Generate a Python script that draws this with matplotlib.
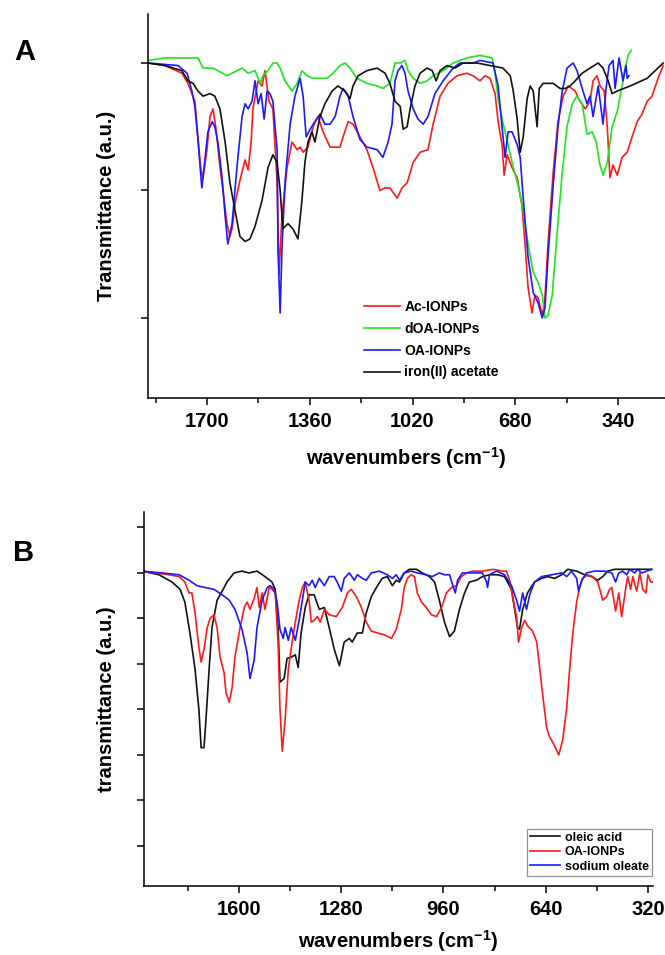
import matplotlib
matplotlib.use("Agg")
from matplotlib import pyplot as plt

plt.rcParams['font.family'] = ['Liberation Sans', 'DejaVu Sans']
plt.rcParams['font.weight'] = 'bold'
plt.rcParams['axes.labelweight'] = 'bold'
plt.rcParams['mathtext.fontset'] = 'custom'
plt.rcParams['mathtext.rm'] = 'Liberation Sans:bold'
plt.rcParams['mathtext.it'] = 'Liberation Sans:bold'
plt.rcParams['mathtext.bf'] = 'Liberation Sans:bold'

# ---- panel A : FTIR spectra, (wavenumber cm-1, transmittance a.u.) ----
ac_ionps = [
    (1895, 1.00), (1839, 0.99), (1783, 0.96), (1763, 0.92), (1740, 0.85), (1730, 0.71),
    (1720, 0.58), (1713, 0.55), (1700, 0.66), (1690, 0.79), (1680, 0.82), (1670, 0.74),
    (1657, 0.59), (1647, 0.50), (1634, 0.37), (1624, 0.32), (1617, 0.35), (1607, 0.45),
    (1591, 0.54), (1574, 0.62), (1564, 0.58), (1554, 0.69), (1548, 0.82), (1531, 0.93),
    (1518, 0.91), (1508, 0.97), (1495, 0.85), (1482, 0.82), (1468, 0.53), (1462, 0.17),
    (1452, 0.40), (1435, 0.59), (1419, 0.69), (1402, 0.66), (1392, 0.67), (1382, 0.65),
    (1366, 0.67), (1349, 0.75), (1333, 0.79), (1316, 0.73), (1293, 0.67), (1260, 0.67),
    (1250, 0.71), (1233, 0.77), (1217, 0.76), (1194, 0.71), (1171, 0.66), (1151, 0.59),
    (1128, 0.50), (1111, 0.51), (1095, 0.51), (1071, 0.47), (1055, 0.51), (1038, 0.53),
    (1018, 0.61), (995, 0.65), (969, 0.66), (952, 0.76), (929, 0.87), (903, 0.92),
    (873, 0.95), (840, 0.96), (820, 0.95), (797, 0.93), (780, 0.95), (764, 0.94),
    (747, 0.88), (737, 0.77), (724, 0.68), (717, 0.56), (707, 0.64), (691, 0.59),
    (674, 0.55), (658, 0.44), (648, 0.29), (638, 0.12), (625, 0.02), (615, 0.09),
    (605, 0.08), (591, 0.01), (582, 0.08), (572, 0.29), (555, 0.57), (539, 0.77),
    (522, 0.87), (505, 0.91), (482, 0.89), (466, 0.85), (449, 0.82), (433, 0.85),
    (423, 0.93), (410, 0.95), (400, 0.91), (386, 0.89), (376, 0.75), (367, 0.55),
    (357, 0.60), (343, 0.56), (327, 0.63), (310, 0.65), (294, 0.71), (277, 0.77),
    (261, 0.80), (244, 0.85), (228, 0.87), (211, 0.93), (201, 0.96), (191, 0.99),
]
doa_ionps = [
    (1895, 1.01), (1839, 1.02), (1783, 1.02), (1730, 1.02), (1713, 0.98), (1683, 0.98),
    (1664, 0.97), (1634, 0.95), (1617, 0.96), (1584, 0.98), (1564, 0.96), (1541, 0.97),
    (1524, 0.92), (1515, 0.95), (1498, 0.97), (1482, 1.00), (1468, 1.00), (1458, 0.98),
    (1442, 0.93), (1419, 0.89), (1402, 0.92), (1386, 0.97), (1369, 0.95), (1349, 0.94),
    (1326, 0.94), (1303, 0.94), (1283, 0.96), (1260, 0.99), (1243, 1.00), (1227, 0.98),
    (1204, 0.94), (1171, 0.92), (1137, 0.91), (1118, 0.90), (1095, 0.92), (1078, 1.00),
    (1061, 1.00), (1045, 1.01), (1035, 0.97), (1018, 0.94), (995, 0.92), (972, 0.93),
    (952, 0.95), (919, 0.97), (886, 1.00), (840, 1.02), (797, 1.03), (757, 1.02),
    (747, 0.96), (737, 0.86), (720, 0.76), (704, 0.68), (687, 0.59), (671, 0.52),
    (654, 0.42), (638, 0.29), (621, 0.18), (605, 0.14), (591, 0.09), (582, 0.00),
    (572, 0.01), (558, 0.09), (542, 0.33), (525, 0.57), (509, 0.75), (492, 0.84),
    (476, 0.87), (459, 0.84), (443, 0.72), (426, 0.73), (413, 0.69), (400, 0.60),
    (390, 0.56), (376, 0.61), (360, 0.75), (343, 0.81), (327, 0.91), (317, 0.98),
    (307, 1.03), (297, 1.05),
]
oa_ionps_a = [
    (1895, 1.00), (1796, 0.99), (1766, 0.96), (1750, 0.89), (1740, 0.83), (1730, 0.70),
    (1717, 0.51), (1707, 0.62), (1697, 0.73), (1683, 0.77), (1674, 0.75), (1664, 0.69),
    (1650, 0.55), (1640, 0.40), (1631, 0.29), (1617, 0.37), (1601, 0.59), (1584, 0.79),
    (1574, 0.84), (1564, 0.82), (1551, 0.85), (1541, 0.93), (1531, 0.84), (1521, 0.88),
    (1511, 0.78), (1501, 0.89), (1492, 0.88), (1482, 0.85), (1468, 0.66), (1465, 0.27),
    (1458, 0.02), (1452, 0.27), (1442, 0.53), (1425, 0.76), (1409, 0.87), (1392, 0.94),
    (1382, 0.87), (1372, 0.71), (1359, 0.74), (1343, 0.77), (1326, 0.80), (1310, 0.76),
    (1293, 0.76), (1276, 0.79), (1260, 0.87), (1250, 0.90), (1233, 0.87), (1217, 0.79),
    (1194, 0.70), (1171, 0.67), (1137, 0.66), (1118, 0.63), (1101, 0.69), (1088, 0.76),
    (1078, 0.93), (1068, 0.97), (1055, 0.99), (1045, 0.96), (1035, 0.89), (1018, 0.82),
    (1002, 0.78), (985, 0.76), (969, 0.79), (946, 0.88), (919, 0.93), (886, 0.98),
    (863, 1.00), (820, 1.00), (797, 1.01), (754, 1.00), (737, 0.91), (724, 0.75),
    (714, 0.63), (704, 0.73), (691, 0.73), (674, 0.68), (664, 0.63), (654, 0.47),
    (638, 0.24), (621, 0.10), (605, 0.06), (591, 0.00), (582, 0.04), (572, 0.24),
    (555, 0.52), (539, 0.75), (525, 0.89), (509, 0.98), (489, 1.00), (476, 0.97),
    (459, 0.90), (443, 0.84), (433, 0.87), (423, 0.79), (406, 0.91), (390, 0.76),
    (380, 0.90), (370, 0.99), (357, 1.01), (350, 0.90), (337, 1.02), (324, 0.93),
    (314, 0.99), (310, 0.94), (304, 0.95),
]
iron_acetate = [
    (1895, 1.00), (1839, 0.99), (1783, 0.97), (1763, 0.93), (1746, 0.92), (1730, 0.89),
    (1713, 0.87), (1690, 0.88), (1674, 0.87), (1657, 0.82), (1640, 0.69), (1624, 0.53),
    (1607, 0.42), (1591, 0.32), (1574, 0.30), (1558, 0.31), (1541, 0.36), (1518, 0.46),
    (1498, 0.59), (1482, 0.64), (1468, 0.61), (1458, 0.50), (1449, 0.35), (1432, 0.37),
    (1416, 0.35), (1399, 0.31), (1386, 0.46), (1376, 0.61), (1366, 0.69), (1353, 0.73),
    (1343, 0.69), (1326, 0.79), (1310, 0.84), (1286, 0.89), (1267, 0.91), (1243, 0.89),
    (1227, 0.86), (1217, 0.91), (1200, 0.95), (1171, 0.97), (1137, 0.98), (1111, 0.96),
    (1095, 0.92), (1078, 0.85), (1061, 0.83), (1051, 0.74), (1038, 0.75), (1028, 0.82),
    (1012, 0.91), (995, 0.96), (972, 0.98), (955, 0.97), (942, 0.93), (929, 0.97),
    (906, 0.99), (880, 0.98), (853, 1.00), (807, 1.00), (764, 0.99), (721, 0.98),
    (697, 0.95), (687, 0.89), (674, 0.78), (664, 0.65), (654, 0.71), (641, 0.86),
    (631, 0.91), (621, 0.89), (608, 0.75), (601, 0.90), (588, 0.92), (555, 0.92),
    (532, 0.90), (515, 0.90), (499, 0.91), (482, 0.93), (459, 0.96), (433, 0.98),
    (406, 1.00), (390, 0.98), (373, 0.93), (360, 0.88), (343, 0.89), (300, 0.91),
    (244, 0.94), (191, 1.00),
]

# ---- panel B ----
oleic_acid = [
    (1904, 1.01), (1851, 0.99), (1810, 0.95), (1785, 0.91), (1770, 0.84), (1754, 0.67),
    (1738, 0.47), (1726, 0.25), (1719, 0.04), (1710, 0.04), (1704, 0.19), (1694, 0.47),
    (1685, 0.70), (1669, 0.85), (1653, 0.90), (1638, 0.95), (1616, 1.00), (1591, 1.01),
    (1569, 1.00), (1544, 1.01), (1519, 0.98), (1497, 0.95), (1487, 0.91), (1478, 0.70),
    (1472, 0.40), (1459, 0.42), (1450, 0.53), (1434, 0.54), (1424, 0.55), (1415, 0.48),
    (1406, 0.67), (1393, 0.81), (1381, 0.88), (1365, 0.88), (1349, 0.80), (1333, 0.81),
    (1318, 0.70), (1302, 0.58), (1286, 0.49), (1271, 0.62), (1255, 0.64), (1246, 0.62),
    (1230, 0.67), (1214, 0.67), (1202, 0.78), (1186, 0.87), (1170, 0.92), (1152, 0.97),
    (1136, 0.98), (1120, 0.93), (1108, 0.96), (1098, 0.95), (1083, 1.00), (1067, 1.02),
    (1045, 1.02), (1026, 1.00), (1004, 0.98), (988, 0.95), (973, 0.85), (957, 0.73),
    (941, 0.65), (926, 0.68), (910, 0.80), (894, 0.89), (879, 0.95), (857, 0.96),
    (838, 0.98), (816, 0.99), (791, 0.99), (769, 0.98), (747, 0.91), (738, 0.81),
    (728, 0.70), (722, 0.69), (712, 0.80), (697, 0.89), (675, 0.95), (653, 0.97),
    (634, 0.98), (612, 0.97), (590, 0.99), (571, 1.02), (543, 1.01), (518, 0.99),
    (496, 0.98), (477, 0.96), (461, 0.98), (446, 1.01), (424, 1.02), (383, 1.02),
    (339, 1.02), (308, 1.02),
]
oa_ionps_b = [
    (1904, 1.01), (1864, 1.00), (1820, 0.99), (1788, 0.98), (1770, 0.95), (1757, 0.89),
    (1748, 0.89), (1738, 0.78), (1726, 0.59), (1719, 0.51), (1710, 0.58), (1700, 0.70),
    (1691, 0.75), (1679, 0.77), (1669, 0.70), (1660, 0.54), (1647, 0.45), (1641, 0.34),
    (1631, 0.29), (1622, 0.37), (1613, 0.54), (1597, 0.70), (1584, 0.81), (1575, 0.84),
    (1566, 0.80), (1553, 0.86), (1544, 0.92), (1537, 0.81), (1528, 0.89), (1519, 0.80),
    (1506, 0.92), (1497, 0.91), (1487, 0.89), (1478, 0.62), (1472, 0.25), (1465, 0.02),
    (1456, 0.19), (1446, 0.47), (1434, 0.62), (1424, 0.73), (1412, 0.85), (1402, 0.92),
    (1393, 0.95), (1381, 0.85), (1374, 0.73), (1365, 0.74), (1355, 0.76), (1346, 0.73),
    (1333, 0.80), (1318, 0.77), (1296, 0.76), (1277, 0.81), (1261, 0.89), (1249, 0.91),
    (1233, 0.87), (1217, 0.81), (1202, 0.73), (1186, 0.68), (1167, 0.67), (1145, 0.66),
    (1123, 0.64), (1108, 0.69), (1092, 0.80), (1083, 0.92), (1073, 0.97), (1061, 0.99),
    (1051, 0.98), (1042, 0.89), (1029, 0.84), (1014, 0.81), (998, 0.77), (982, 0.76),
    (966, 0.81), (951, 0.89), (935, 0.92), (919, 0.93), (904, 0.98), (888, 1.00),
    (869, 1.01), (838, 1.01), (806, 1.02), (775, 1.01), (763, 1.01), (753, 0.96),
    (744, 0.87), (731, 0.76), (725, 0.62), (715, 0.70), (706, 0.74), (697, 0.71),
    (681, 0.68), (668, 0.62), (659, 0.48), (650, 0.34), (637, 0.15), (628, 0.10),
    (612, 0.05), (599, 0.00), (587, 0.08), (574, 0.26), (565, 0.47), (555, 0.67),
    (543, 0.84), (534, 0.92), (524, 0.97), (509, 0.99), (493, 0.98), (477, 0.95),
    (461, 0.85), (449, 0.87), (440, 0.91), (433, 0.92), (421, 0.79), (411, 0.89),
    (402, 0.76), (389, 0.92), (383, 0.98), (374, 0.91), (367, 0.98), (355, 0.90),
    (345, 1.00), (336, 0.91), (326, 0.89), (320, 0.99), (311, 0.95), (304, 0.95),
]
sodium_oleate = [
    (1904, 1.01), (1842, 1.00), (1788, 0.99), (1757, 0.96), (1732, 0.93), (1707, 0.92),
    (1679, 0.91), (1653, 0.88), (1631, 0.85), (1613, 0.80), (1591, 0.69), (1575, 0.56),
    (1566, 0.42), (1553, 0.52), (1544, 0.70), (1528, 0.85), (1512, 0.92), (1503, 0.93),
    (1490, 0.91), (1481, 0.84), (1472, 0.69), (1462, 0.64), (1456, 0.70), (1446, 0.63),
    (1437, 0.70), (1424, 0.63), (1412, 0.74), (1402, 0.85), (1393, 0.95), (1381, 0.93),
    (1371, 0.96), (1362, 0.92), (1349, 0.97), (1333, 0.93), (1318, 0.98), (1302, 0.98),
    (1293, 0.95), (1280, 0.90), (1271, 0.97), (1255, 1.00), (1239, 0.96), (1230, 0.99),
    (1214, 0.97), (1202, 0.96), (1186, 1.00), (1161, 1.01), (1136, 0.99), (1120, 0.97),
    (1108, 0.99), (1098, 0.96), (1083, 1.00), (1061, 1.01), (1042, 1.00), (1014, 0.99),
    (995, 0.98), (973, 1.00), (957, 0.99), (941, 0.99), (929, 0.92), (923, 0.89),
    (916, 0.96), (901, 1.00), (869, 1.00), (838, 1.00), (825, 0.95), (822, 0.92),
    (816, 0.99), (794, 1.01), (769, 0.99), (747, 0.93), (731, 0.85), (722, 0.79),
    (712, 0.89), (700, 0.80), (690, 0.88), (675, 0.95), (653, 0.98), (621, 0.99),
    (590, 1.00), (574, 0.98), (559, 1.01), (543, 0.97), (537, 0.90), (527, 0.96),
    (512, 1.00), (487, 1.01), (455, 1.01), (433, 1.00), (421, 0.95), (411, 1.00),
    (399, 1.01), (386, 0.99), (377, 1.02), (361, 1.00), (352, 1.02), (339, 1.00),
    (323, 1.01), (308, 1.02),
]

series_a = [(ac_ionps, '#ff1a1a', 'Ac-IONPs'),
            (doa_ionps, '#1ee61e', 'dOA-IONPs'),
            (oa_ionps_a, '#1a1aff', 'OA-IONPs'),
            (iron_acetate, '#111111', 'iron(II) acetate')]
series_b = [(oleic_acid, '#111111', 'oleic acid'),
            (oa_ionps_b, '#ff1a1a', 'OA-IONPs'),
            (sodium_oleate, '#1a1aff', 'sodium oleate')]

xlabel = 'wavenumbers (cm$^{-1}$)'

fig = plt.figure(figsize=(6.65, 9.55), dpi=100)
ax_a = fig.add_axes([0.2226, 0.5832, 0.7774, 0.4021])
ax_b = fig.add_axes([0.2165, 0.0723, 0.7654, 0.3916])


def style_axis(ax):
    for side in ('top', 'right'):
        ax.spines[side].set_visible(False)
    for side in ('left', 'bottom'):
        ax.spines[side].set_linewidth(1.1)
    ax.tick_params(which='major', direction='out', length=5, width=1.1,
                   labelsize=14.5, pad=5)
    ax.tick_params(which='minor', direction='out', length=3.5, width=1.1)
    ax.tick_params(axis='y', labelleft=False)
    for lab in ax.get_xticklabels():
        lab.set_fontweight('bold')


for pts, col, lab in series_a:
    wn, tr = zip(*pts)
    ax_a.plot(wn, tr, color=col, lw=1.2, label=lab)
ax_a.set_xlim(1895, 185)
ax_a.set_ylim(-0.314, 1.192)
ax_a.set_xticks([1700, 1360, 1020, 680, 340])
ax_a.set_xticks([1870, 1530, 1190, 850, 510], minor=True)
ax_a.set_yticks([0, 0.5, 1.0])
style_axis(ax_a)
ax_a.set_xlabel(xlabel, fontsize=14.5, labelpad=10)
ax_a.set_ylabel('Transmittance (a.u.)', fontsize=14.5)
ax_a.yaxis.set_label_coords(-0.062, 0.5)
ax_a.legend(loc='upper left', bbox_to_anchor=(0.418, 0.255), frameon=False,
            prop={'size': 10, 'weight': 'bold'}, handlelength=2.6,
            handletextpad=0.3, labelspacing=0.56, borderpad=0, borderaxespad=0)

for pts, col, lab in series_b:
    wn, tr = zip(*pts)
    ax_b.plot(wn, tr, color=col, lw=1.2, label=lab)
ax_b.set_xlim(1898, 304)
ax_b.set_ylim(-0.72, 1.335)
ax_b.set_xticks([1600, 1280, 960, 640, 320])
ax_b.set_xticks([1760, 1440, 1120, 800, 480], minor=True)
ax_b.set_yticks([-0.5, -0.25, 0, 0.25, 0.5, 0.75, 1.0, 1.25])
style_axis(ax_b)
ax_b.set_xlabel(xlabel, fontsize=14.5, labelpad=7)
ax_b.set_ylabel('transmittance (a.u.)', fontsize=14.5)
ax_b.yaxis.set_label_coords(-0.055, 0.5)
leg = ax_b.legend(loc='lower right', bbox_to_anchor=(0.998, 0.027), frameon=True,
                  fancybox=False, prop={'size': 9, 'weight': 'bold'},
                  handlelength=2.4, handletextpad=0.4, labelspacing=0.2,
                  borderpad=0.25, borderaxespad=0)
leg.get_frame().set_edgecolor('#777777')
leg.get_frame().set_linewidth(0.9)

fig.text(0.038, 1 - 52 / 955, 'A', fontsize=21, fontweight='bold', ha='center', va='center')
fig.text(0.035, 1 - 553 / 955, 'B', fontsize=21, fontweight='bold', ha='center', va='center')

fig.savefig('out.png', dpi=100)
